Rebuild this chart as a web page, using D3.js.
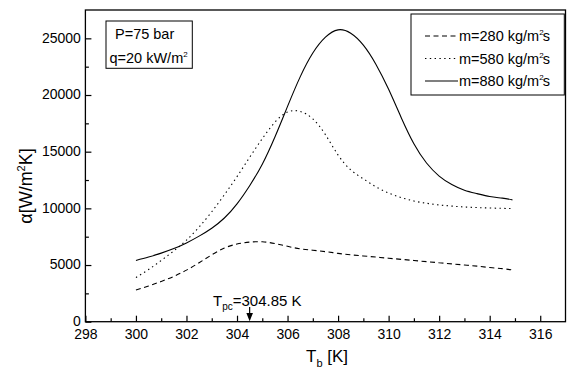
<!DOCTYPE html>
<html>
<head>
<meta charset="utf-8">
<script src="https://cdn.jsdelivr.net/npm/d3@7"></script>
<style>
  body { margin: 0; background: #fff; }
  svg { display: block; font-family: "Liberation Sans", Arial, sans-serif; }
</style>
</head>
<body>
<div id="chart"></div>
<script>
// bulk temperature [K]
const temps = [300, 300.5, 301, 301.5, 302, 302.5, 303, 303.5, 304, 304.5, 305, 305.5,
  306, 306.5, 307, 307.5, 308, 308.5, 309, 309.5, 310, 310.5, 311, 311.5, 312, 312.5,
  313, 313.5, 314, 314.5, 314.9];

// heat transfer coefficient [W/m2K]
const alpha280 = [2800, 3150, 3550, 4000, 4550, 5200, 5900, 6500, 6850, 7020, 7050, 6900,
  6650, 6430, 6300, 6180, 6030, 5900, 5800, 5700, 5600, 5500, 5400, 5300, 5200, 5100,
  5000, 4900, 4780, 4680, 4560];
const alpha580 = [3900, 4600, 5400, 6250, 7200, 8350, 9700, 11200, 12800, 14500, 16150, 17600,
  18500, 18550, 17900, 16500, 14700, 13400, 12600, 11900, 11350, 10950, 10650, 10450, 10300, 10200,
  10120, 10070, 10030, 10000, 9980];
const alpha880 = [5400, 5700, 6050, 6450, 6950, 7550, 8250, 9150, 10400, 12000, 13900, 16300,
  19000, 21600, 23700, 25100, 25750, 25450, 24400, 22700, 20500, 18000, 15700, 14000, 12850, 12100,
  11600, 11300, 11050, 10900, 10750];

const seriesNames = ["m=280 kg/m", "m=580 kg/m", "m=880 kg/m"];
const xTicks = [298, 300, 302, 304, 306, 308, 310, 312, 314, 316];
const xMinor = [299, 301, 303, 305, 307, 309, 311, 313, 315];
const yTicks = [0, 5000, 10000, 15000, 20000, 25000];
const yMinor = [2500, 7500, 12500, 17500, 22500];
const tpcArrow = 304.5;

const W = 567, H = 370;
const margin = { t: 10, r: 1.5, b: 48.3, l: 85.4 };

const svg = d3.select("#chart").append("svg")
  .attr("width", W).attr("height", H);

const x = d3.scaleLinear().domain([298, 317]).range([margin.l, W - margin.r]);
const y = d3.scaleLinear().domain([0, 27500]).range([H - margin.b, margin.t]);

// axes
svg.append("g")
  .attr("transform", `translate(0,${H - margin.b})`)
  .call(d3.axisBottom(x).tickValues(xTicks).tickSize(-6).tickPadding(7.5).tickFormat(d3.format("d")))
  .call(g => g.select(".domain").remove());
svg.append("g")
  .attr("transform", `translate(0,${H - margin.b})`)
  .call(d3.axisBottom(x).tickValues(xMinor).tickSize(-3.5).tickFormat(""))
  .call(g => g.select(".domain").remove());

svg.append("g")
  .attr("transform", `translate(${margin.l},0)`)
  .call(d3.axisLeft(y).tickValues(yTicks).tickSize(-6).tickPadding(4.5).tickFormat(d3.format("d")))
  .call(g => g.select(".domain").remove())
  .call(g => g.selectAll(".tick text").attr("dy", "0.28em"));
svg.append("g")
  .attr("transform", `translate(${margin.l},0)`)
  .call(d3.axisLeft(y).tickValues(yMinor).tickSize(-3.5).tickFormat(""))
  .call(g => g.select(".domain").remove());

svg.selectAll(".tick line").attr("stroke", "#000").attr("stroke-width", 1.2);
svg.selectAll(".tick text").attr("fill", "#000").style("font-size", "14px")
  .style("font-family", "Liberation Sans, Arial, sans-serif");

// frame
svg.append("rect")
  .attr("x", margin.l).attr("y", margin.t)
  .attr("width", W - margin.r - margin.l).attr("height", H - margin.b - margin.t)
  .attr("fill", "none").attr("stroke", "#000").attr("stroke-width", 1.3);

// curves
const line = d3.line().curve(d3.curveNatural)
  .x((d, i) => x(temps[i])).y(d => y(d));
const dashes = ["5,3.5", "1.4,3.4", null];
[alpha280, alpha580, alpha880].forEach((s, i) => {
  svg.append("path")
    .attr("d", line(s))
    .attr("fill", "none").attr("stroke", "#000").attr("stroke-width", 1.1)
    .attr("stroke-dasharray", dashes[i]);
});

// condition box
svg.append("rect").attr("x", 106).attr("y", 21).attr("width", 86.3).attr("height", 47.3)
  .attr("fill", "#fff").attr("stroke", "#000").attr("stroke-width", 1);
svg.append("text").attr("x", 115).attr("y", 39).style("font-size", "14.5px").text("P=75 bar");
const qt = svg.append("text").attr("x", 109.5).attr("y", 63).style("font-size", "14.5px");
qt.append("tspan").text("q=20 kW/m");
qt.append("tspan").attr("dy", -6).style("font-size", "8px").text("2");

// legend
svg.append("rect").attr("x", 411).attr("y", 14).attr("width", 153.3).attr("height", 81)
  .attr("fill", "#fff").attr("stroke", "#000").attr("stroke-width", 1);
seriesNames.forEach((name, i) => {
  const ly = 36 + i * 22.5;
  svg.append("line").attr("x1", 425).attr("x2", 458).attr("y1", ly).attr("y2", ly)
    .attr("stroke", "#000").attr("stroke-width", 1.1).attr("stroke-dasharray", dashes[i]);
  const t = svg.append("text").attr("x", 459).attr("y", ly + 5).style("font-size", "14.5px");
  t.append("tspan").text(name);
  t.append("tspan").attr("dy", -6).style("font-size", "8px").text("2");
  t.append("tspan").attr("dy", 6).attr("dx", -1).text("s");
});

// T_pc annotation
const tp = svg.append("text").attr("x", 213).attr("y", 305.5).style("font-size", "15px");
tp.append("tspan").text("T");
tp.append("tspan").attr("dy", 4).style("font-size", "10px").text("pc");
tp.append("tspan").attr("dy", -4).text("=304.85 K");
const ax = x(tpcArrow);
svg.append("line").attr("x1", ax).attr("x2", ax).attr("y1", 307).attr("y2", 314)
  .attr("stroke", "#000").attr("stroke-width", 1.2);
svg.append("path")
  .attr("d", `M${ax - 3.3},313 L${ax + 3.3},313 L${ax},${H - margin.b - 0.5} Z`)
  .attr("fill", "#000");

// axis titles
const xt = svg.append("text").attr("x", 306).attr("y", 362).style("font-size", "17px");
xt.append("tspan").text("T");
xt.append("tspan").attr("dy", 5).style("font-size", "11px").text("b");
xt.append("tspan").attr("dy", -5).text(" [K]");

const yt = svg.append("text")
  .attr("transform", `translate(31.5,186) rotate(-90)`)
  .attr("text-anchor", "middle").style("font-size", "18px");
yt.append("tspan").text("α[W/m");
yt.append("tspan").attr("dy", -7).style("font-size", "11px").text("2");
yt.append("tspan").attr("dy", 7).text("K]");
</script>
</body>
</html>
